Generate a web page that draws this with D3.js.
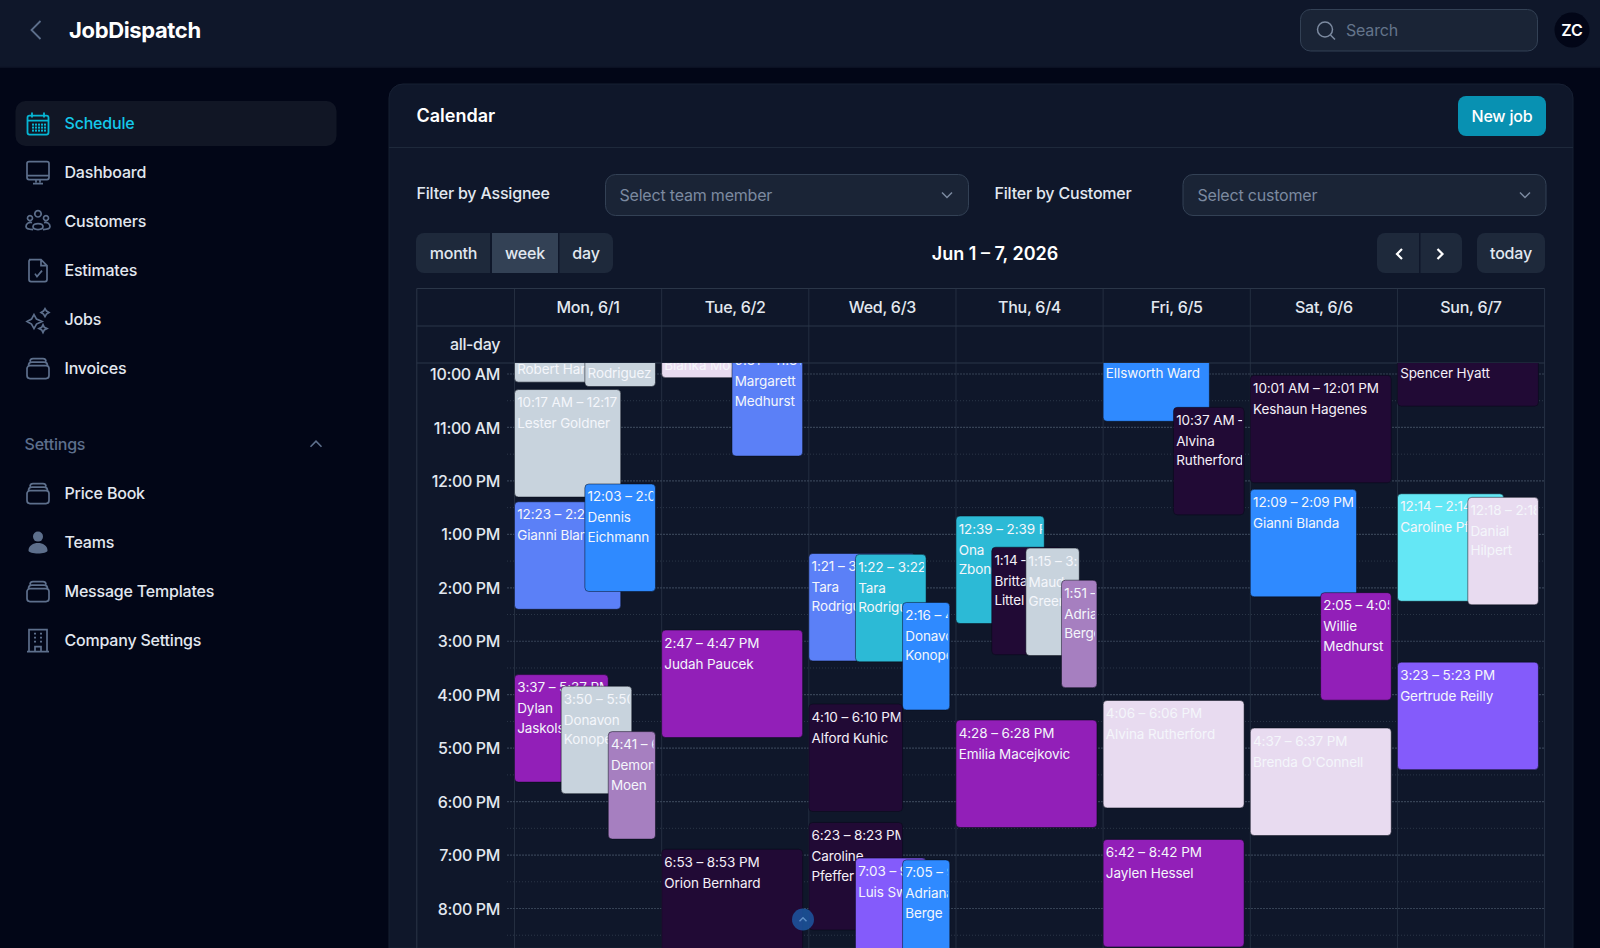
<!DOCTYPE html>
<html>
<head>
<meta charset="utf-8">
<title>JobDispatch</title>
<script src="https://cdn.jsdelivr.net/npm/d3@7"></script>
<style>
  html, body { margin: 0; padding: 0; background: #020617; overflow: hidden; }
  svg { display: block; font-family: Inter, "Noto Sans", sans-serif; letter-spacing: -0.2px; }
  .axis .domain, .axis line { display: none; }
  .axis text { letter-spacing: -0.28px; }
  .job text { letter-spacing: -0.1px; }
  .wide text, text.wide { letter-spacing: 0; }
</style>
</head>
<body>
<svg id="page" width="1600" height="948"></svg>
<script>
// calendar data
const dayLabels = ['Mon, 6/1', 'Tue, 6/2', 'Wed, 6/3', 'Thu, 6/4', 'Fri, 6/5', 'Sat, 6/6', 'Sun, 6/7'];
const hourTicks = [10, 11, 12, 13, 14, 15, 16, 17, 18, 19, 20];
const hourLabels = ['10:00 AM', '11:00 AM', '12:00 PM', '1:00 PM', '2:00 PM', '3:00 PM', '4:00 PM', '5:00 PM', '6:00 PM', '7:00 PM', '8:00 PM'];
const jobMinutes = 120;

// rows: start, time text, name lines, colour key, lane key
const monJobs = [
  ['8:08', '8:08 – 10:08 AM', ['Robert Harber'], 'slate', 'left'],
  ['8:13', '8:13 – 10:13 AM', ['Tara', 'Rodriguez'], 'slate', 'right'],
  ['10:17', '10:17 AM – 12:17 PM', ['Lester Goldner'], 'slate', 'left'],
  ['12:23', '12:23 – 2:23 PM', ['Gianni Blanda'], 'periwinkle', 'left'],
  ['12:03', '12:03 – 2:03 PM', ['Dennis', 'Eichmann'], 'blue', 'right'],
  ['15:37', '3:37 – 5:37 PM', ['Dylan', 'Jaskolski'], 'purple', 'thirdA'],
  ['15:50', '3:50 – 5:50 PM', ['Donavon', 'Konopelski'], 'slate', 'thirdB'],
  ['16:41', '4:41 – 6:41 PM', ['Demond', 'Moen'], 'mauve', 'thirdC']
];
const tueJobs = [
  ['8:03', '8:03 – 10:03 AM', ['Bianka Moen'], 'lilac', 'left'],
  ['9:31', '9:31 – 11:31 AM', ['Margarett', 'Medhurst'], 'periwinkle', 'right'],
  ['14:47', '2:47 – 4:47 PM', ['Judah Paucek'], 'purple', 'full'],
  ['18:53', '6:53 – 8:53 PM', ['Orion Bernhard'], 'plum', 'full']
];
const wedJobs = [
  ['13:21', '1:21 – 3:21 PM', ['Tara', 'Rodriguez'], 'periwinkle', 'left'],
  ['13:22', '1:22 – 3:22 PM', ['Tara', 'Rodriguez'], 'teal', 'thirdB'],
  ['14:16', '2:16 – 4:16 PM', ['Donavon', 'Konopelski'], 'blue', 'thirdC'],
  ['16:10', '4:10 – 6:10 PM', ['Alford Kuhic'], 'plum', 'thirdA'],
  ['18:23', '6:23 – 8:23 PM', ['Caroline', 'Pfeffer'], 'plum', 'thirdA'],
  ['19:03', '7:03 – 9:03 PM', ['Luis Swift'], 'violet', 'thirdB'],
  ['19:05', '7:05 – 9:05 PM', ['Adriana', 'Berge'], 'blue', 'thirdC']
];
const thuJobs = [
  ['12:39', '12:39 – 2:39 PM', ['Ona', 'Zboncak'], 'teal', 'fourA'],
  ['13:14', '1:14 – 3:14 PM', ['Britta', 'Littel'], 'plum', 'fourB'],
  ['13:15', '1:15 – 3:15 PM', ['Maud', 'Green'], 'slate', 'fourC'],
  ['13:51', '1:51 – 3:51 PM', ['Adria', 'Berge'], 'mauve', 'fourD'],
  ['16:28', '4:28 – 6:28 PM', ['Emilia Macejkovic'], 'purple', 'full']
];
const friJobs = [
  ['8:52', '8:52 – 10:52 AM', ['Ellsworth Ward'], 'blue', 'left'],
  ['10:37', '10:37 AM – 12:37 PM', ['Alvina', 'Rutherford'], 'plum', 'right'],
  ['16:06', '4:06 – 6:06 PM', ['Alvina Rutherford'], 'lilac', 'full'],
  ['18:42', '6:42 – 8:42 PM', ['Jaylen Hessel'], 'purple', 'full']
];
const satJobs = [
  ['10:01', '10:01 AM – 12:01 PM', ['Keshaun Hagenes'], 'plum', 'full'],
  ['12:09', '12:09 – 2:09 PM', ['Gianni Blanda'], 'blue', 'left'],
  ['14:05', '2:05 – 4:05 PM', ['Willie', 'Medhurst'], 'purple', 'right'],
  ['16:37', '4:37 – 6:37 PM', ["Brenda O'Connell"], 'lilac', 'full']
];
const sunJobs = [
  ['8:35', '8:35 – 10:35 AM', ['Spencer Hyatt'], 'plum', 'full'],
  ['12:14', '12:14 – 2:14 PM', ['Caroline Pfeffer'], 'cyan', 'left'],
  ['12:18', '12:18 – 2:18 PM', ['Danial', 'Hilpert'], 'lilac', 'right'],
  ['15:23', '3:23 – 5:23 PM', ['Gertrude Reilly'], 'violet', 'full']
];
const weekJobs = [monJobs, tueJobs, wedJobs, thuJobs, friJobs, satJobs, sunJobs];

const mainNav = ['Schedule', 'Dashboard', 'Customers', 'Estimates', 'Jobs', 'Invoices'];
const settingsNav = ['Price Book', 'Teams', 'Message Templates', 'Company Settings'];

// look
const jobColours = {
  slate: '#c8d3dd', periwinkle: '#5b80f7', blue: '#2f8aff', purple: '#921fb8', plum: '#210a35',
  lilac: '#e8dbf0', mauve: '#a67fc0', teal: '#2cbad6', cyan: '#64e7f5', violet: '#845bfb'
};
// where a job sits inside its day, as a share of the day's width
const lanes = {
  full: [0, 0.958], left: [0, 0.722], right: [0.478, 0.958],
  thirdA: [0, 0.637], thirdB: [0.317, 0.797], thirdC: [0.637, 0.958],
  fourA: [0, 0.6], fourB: [0.243, 0.72], fourC: [0.475, 0.838], fourD: [0.717, 0.958]
};
// jobs scrolled past the top keep their text stuck near the edge
const stuckTextTop = { '8:08': 335.3, '8:13': 320.4, '8:03': 331.5, '9:31': 347.8, '8:52': 339, '8:35': 339 };

const colors = {
  page: '#020617', panel: '#0f172a', border: '#1e293b', grid: '#2b3648',
  field: '#1a2436', fieldBorder: '#334155', muted: '#64748b', placeholder: '#7c8aa0',
  text: '#e2e8f0', white: '#ffffff', icon: '#5d6f8c', cyan: '#06b6d4', button: '#1e293b', buttonOn: '#334155'
};

const svg = d3.select('#page');

function minutesOf(hm) {
  const [h, m] = hm.split(':').map(Number);
  return h * 60 + m;
}

function label(parent, x, y, text, size, fill, weight, anchor) {
  return parent.append('text')
    .attr('x', x).attr('y', y).attr('dy', '.35em')
    .attr('font-size', size).attr('fill', fill)
    .attr('font-weight', weight || 400)
    .attr('text-anchor', anchor || 'start')
    .text(text);
}

function box(parent, x, y, w, h, r, fill, stroke) {
  return parent.append('rect')
    .attr('x', x).attr('y', y).attr('width', w).attr('height', h).attr('rx', r)
    .attr('fill', fill).attr('stroke', stroke || 'none');
}

function chevron(parent, cx, cy, dir, size, stroke, width) {
  const s = size;
  const pts = {
    up: [[-s, s / 2], [0, -s / 2], [s, s / 2]],
    down: [[-s, -s / 2], [0, s / 2], [s, -s / 2]],
    left: [[s / 2, -s], [-s / 2, 0], [s / 2, s]],
    right: [[-s / 2, -s], [s / 2, 0], [-s / 2, s]]
  }[dir];
  parent.append('path')
    .attr('d', d3.line()(pts.map(p => [cx + p[0], cy + p[1]])))
    .attr('fill', 'none').attr('stroke', stroke).attr('stroke-width', width);
}

// sidebar icons, drawn in a 24 box around the middle
const iconPaths = {
  Dashboard: 'M-9 -11H9a2 2 0 0 1 2 2V5a2 2 0 0 1-2 2H-9a2 2 0 0 1-2-2V-9a2 2 0 0 1 2-2ZM-11 3H11M-2 7V10M2 7V10M-5 11H5',
  Customers: 'M0 -11a3.2 3.2 0 1 1 -.01 0ZM-8 -6a2.5 2.5 0 1 1 -.01 0ZM8 -6a2.5 2.5 0 1 1 -.01 0ZM-5 5c0-4 10-4 10 0c0 4-10 4-10 0ZM-6 1c-3-1-6 1-6 4c0 2 3 3 7 3M6 1c3-1 6 1 6 4c0 2-3 3-7 3',
  Estimates: 'M-9 -11H3L9 -5V9a2 2 0 0 1-2 2H-7a2 2 0 0 1-2-2V-9a2 2 0 0 1 2-2ZM3 -11V-5H9M-3 3L-1 6L4 0',
  Jobs: 'M-4 -5L-1.5 -0.5L4 2L-1.5 4.5L-4 9L-6.5 4.5L-11 2L-6.5 -0.5ZM7 -11L8.5 -8.5L11 -7L8.5 -5.5L7 -3L5.5 -5.5L3 -7L5.5 -8.5ZM5 5L6.3 7.7L9 9L6.3 10.3L5 13L3.7 10.3L1 9L3.7 7.7Z',
  Invoices: 'M-8 -3H8a3 3 0 0 1 3 3V7a3 3 0 0 1-3 3H-8a3 3 0 0 1-3-3V0a3 3 0 0 1 3-3ZM-9.5 -3C-9.5 -5.5 -8.5 -6.5 -6 -6.5H6C8.5 -6.5 9.5 -5.5 9.5 -3M-8 -7C-8 -9 -7 -10 -5 -10H5C7 -10 8 -9 8 -7',
  Company: 'M-9 -11H9V11H-9ZM-11 11H11M-4 -7H-2M2 -7H4M-4 -3H-2M2 -3H4M-4 1H-2M2 1H4M-3 11V6H3V11'
};

function navIcon(name, cx, cy) {
  const g = svg.append('g').attr('transform', `translate(${cx},${cy})`);
  if (name === 'Schedule') {
    g.append('rect').attr('x', -10.5).attr('y', -8).attr('width', 21).attr('height', 19).attr('rx', 2)
      .attr('fill', 'none').attr('stroke', colors.cyan).attr('stroke-width', 1.8);
    g.append('path').attr('d', 'M-10 -3H10M-6 -11V-6M6 -11V-6').attr('stroke', colors.cyan).attr('stroke-width', 1.8);
    d3.cross([-5, -2, 1, 4, 7], [1, 4, 7]).forEach(p => {
      g.append('rect').attr('x', p[0] - 1).attr('y', p[1] - 1).attr('width', 2).attr('height', 2).attr('fill', colors.cyan);
    });
  } else if (name === 'Teams') {
    g.append('circle').attr('cy', -6).attr('r', 5).attr('fill', colors.icon);
    g.append('path').attr('d', 'M-9.5 8C-9.5 -2 9.5 -2 9.5 8C9.5 12 -9.5 12 -9.5 8Z').attr('fill', colors.icon);
  } else {
    const key = name === 'Company Settings' ? 'Company'
      : (name === 'Price Book' || name === 'Message Templates') ? 'Invoices' : name;
    g.append('path').attr('d', iconPaths[key])
      .attr('fill', 'none').attr('stroke', colors.icon).attr('stroke-width', 1.7);
  }
}

function drawShell() {
  box(svg, 0, 0, 1600, 948, 0, colors.page);
  box(svg, 0, 0, 1600, 66.5, 0, colors.panel);
  svg.append('line').attr('x1', 0).attr('x2', 1600).attr('y1', 67).attr('y2', 67).attr('stroke', '#141d30');
  chevron(svg, 36, 30, 'left', 9, colors.icon, 1.8);
  label(svg, 69, 30, 'JobDispatch', 22, colors.white, 700).style('letter-spacing', '-0.36px');

  box(svg, 1300.5, 9.5, 237, 41.5, 10, colors.field, colors.fieldBorder);
  svg.append('circle').attr('cx', 1325).attr('cy', 29.5).attr('r', 7.5)
    .attr('fill', 'none').attr('stroke', colors.placeholder).attr('stroke-width', 1.5);
  svg.append('path').attr('d', 'M1330.5 35L1335 39.5').attr('stroke', colors.placeholder).attr('stroke-width', 1.5);
  label(svg, 1346, 30, 'Search', 16, colors.muted);
  svg.append('circle').attr('cx', 1572).attr('cy', 30).attr('r', 17.5).attr('fill', colors.page);
  label(svg, 1572, 30, 'ZC', 16, colors.white, 600, 'middle');
}

function drawSidebar() {
  box(svg, 15.5, 101, 321, 45, 10, '#111625');
  const rowY = i => 123.6 + 49 * i;
  mainNav.forEach((name, i) => {
    navIcon(name, 38, rowY(i));
    label(svg, 64.5, rowY(i), name, 16, i === 0 ? '#14c8ea' : colors.text, 500);
  });
  label(svg, 24.5, 444.8, 'Settings', 16, colors.icon, 500);
  chevron(svg, 316, 444, 'up', 5.5, colors.icon, 1.6);
  settingsNav.forEach((name, i) => {
    const y = 493.6 + 49 * i;
    navIcon(name, 38, y);
    label(svg, 64.5, y, name, 16, colors.text, 500);
  });
}

function drawCard() {
  svg.append('path')
    .attr('d', 'M389 948V98a14 14 0 0 1 14-14H1559a14 14 0 0 1 14 14V948Z')
    .attr('fill', colors.panel).attr('stroke', '#172033');
  svg.append('line').attr('x1', 389).attr('x2', 1573).attr('y1', 147.5).attr('y2', 147.5).attr('stroke', colors.border);
  label(svg, 416.5, 115.5, 'Calendar', 18, colors.white, 600).attr('class', 'wide');
  box(svg, 1458, 96, 88, 40, 8, '#0891b2');
  label(svg, 1502, 116, 'New job', 16, colors.white, 500, 'middle');

  label(svg, 416.5, 193, 'Filter by Assignee', 16, colors.text, 500);
  box(svg, 605.5, 174.5, 363, 41, 10, colors.field, colors.fieldBorder);
  label(svg, 619.5, 195, 'Select team member', 16, colors.placeholder);
  chevron(svg, 947, 195, 'down', 5, colors.placeholder, 1.5);

  label(svg, 994.5, 193, 'Filter by Customer', 16, colors.text, 500);
  box(svg, 1183, 174.5, 363, 41, 10, colors.field, colors.fieldBorder);
  label(svg, 1197.5, 195, 'Select customer', 16, colors.placeholder);
  chevron(svg, 1525, 195, 'down', 5, colors.placeholder, 1.5);

  // view switch
  svg.append('path').attr('d', 'M490 233H424a8 8 0 0 0-8 8V265a8 8 0 0 0 8 8H490Z').attr('fill', colors.button);
  svg.append('rect').attr('x', 492).attr('y', 233).attr('width', 66).attr('height', 40).attr('fill', colors.buttonOn);
  svg.append('path').attr('d', 'M559.5 233H605a8 8 0 0 1 8 8V265a8 8 0 0 1-8 8H559.5Z').attr('fill', colors.button);
  label(svg, 453.5, 253, 'month', 16, colors.text, 500, 'middle');
  label(svg, 525, 253, 'week', 16, colors.text, 500, 'middle');
  label(svg, 586, 253, 'day', 16, colors.text, 500, 'middle');

  label(svg, 995, 253.2, 'Jun 1 – 7, 2026', 18, colors.white, 600, 'middle').attr('class', 'wide');

  svg.append('path').attr('d', 'M1419 233H1385a8 8 0 0 0-8 8V265a8 8 0 0 0 8 8H1419Z').attr('fill', colors.button);
  svg.append('path').attr('d', 'M1420.5 233H1454a8 8 0 0 1 8 8V265a8 8 0 0 1-8 8H1420.5Z').attr('fill', colors.button);
  chevron(svg, 1399.5, 254, 'left', 5, colors.white, 2.2);
  chevron(svg, 1440, 254, 'right', 5, colors.white, 2.2);
  box(svg, 1477, 233, 68, 40, 8, colors.button);
  label(svg, 1511, 253, 'today', 16, colors.text, 500, 'middle');
}

function drawCalendar() {
  const top = 288.5, headBottom = 326, allDayBottom = 363, left = 416.8, right = 1544.6;
  const x = d3.scaleLinear().domain([0, 7]).range([514.5, right]);
  const y = d3.scaleLinear().domain([600, 1200]).range([374, 908.5]);

  const grid = svg.append('g');
  [top, headBottom, allDayBottom].forEach(v => {
    grid.append('line').attr('x1', left).attr('x2', right).attr('y1', v).attr('y2', v).attr('stroke', colors.grid);
  });
  d3.range(0, 8).forEach(d => {
    grid.append('line').attr('x1', x(d)).attr('x2', x(d)).attr('y1', top).attr('y2', 948)
      .attr('stroke', colors.grid).attr('opacity', d === 7 ? 0.9 : 0.75);
  });
  grid.append('line').attr('x1', left).attr('x2', left).attr('y1', top).attr('y2', 948).attr('stroke', colors.grid);

  hourTicks.forEach(h => {
    grid.append('line').attr('x1', 507).attr('x2', right).attr('y1', y(h * 60)).attr('y2', y(h * 60))
      .attr('stroke', '#364255').attr('stroke-width', 1.2).attr('stroke-dasharray', '2 1');
    grid.append('line').attr('x1', 507).attr('x2', right).attr('y1', y(h * 60 + 30)).attr('y2', y(h * 60 + 30))
      .attr('stroke', '#2b3648').attr('stroke-dasharray', '1 2');
  });

  // day header and hour axes
  const dayAxis = d3.axisTop(x)
    .tickValues(d3.range(7).map(d => d + 0.5))
    .tickFormat((d, i) => dayLabels[i]).tickSize(0).tickPadding(0);
  svg.append('g').attr('class', 'axis').attr('transform', 'translate(-0.5,313)').call(dayAxis)
    .call(g => g.selectAll('text').attr('font-size', 16).attr('font-family', 'Inter').attr('font-weight', 500)
      .attr('fill', colors.text));

  label(svg, 500, 344.5, 'all-day', 16, colors.text, 500, 'end').style('letter-spacing', '-0.35px');

  const hourAxis = d3.axisLeft(y)
    .tickValues(hourTicks.map(h => h * 60))
    .tickFormat((d, i) => hourLabels[i]).tickSize(0).tickPadding(0);
  svg.append('g').attr('class', 'axis').attr('transform', 'translate(500,0.5)').call(hourAxis)
    .call(g => g.selectAll('text').attr('font-size', 16).attr('font-family', 'Inter').attr('font-weight', 500)
      .attr('fill', colors.text).style('letter-spacing', '-0.35px'));

  // jobs, cut off where the time grid scrolls
  const defs = svg.append('defs');
  defs.append('clipPath').attr('id', 'slots')
    .append('rect').attr('x', 500).attr('y', allDayBottom).attr('width', 1100).attr('height', 948 - allDayBottom);
  const layer = svg.append('g').attr('clip-path', 'url(#slots)');

  weekJobs.forEach((jobs, day) => {
    jobs.forEach((job, j) => {
      const [start, time, names, colour, laneKey] = job;
      const lane = lanes[laneKey];
      const x0 = x(day + lane[0]), x1 = x(day + lane[1]);
      const y0 = y(minutesOf(start)) + 0.4, y1 = y(minutesOf(start) + jobMinutes) + 1;
      const id = `job-${day}-${j}`;

      defs.append('clipPath').attr('id', id)
        .append('rect').attr('x', x0).attr('y', y0).attr('width', x1 - x0 - 2).attr('height', y1 - y0);

      const g = layer.append('g').attr('class', 'job');
      box(g, x0, y0, x1 - x0, y1 - y0, 4, jobColours[colour], '#070b16').attr('stroke-width', 0.5);

      const textTop = stuckTextTop[start] || y0;
      const inner = g.append('g').attr('clip-path', `url(#${id})`);
      label(inner, x0 + 2.7, textTop + 12.8, time, 13.5, colour === 'plum' ? '#f5f0f8' : '#f4f6fb');
      names.forEach((line, k) => {
        label(inner, x0 + 2.7, textTop + 33.8 + 19.5 * k, line, 13.5, colour === 'plum' ? '#f5f0f8' : '#f4f6fb');
      });
    });
  });

  // back to top button
  svg.append('circle').attr('cx', 803).attr('cy', 919.5).attr('r', 11).attr('fill', '#1d5aa8').attr('opacity', 0.8);
  chevron(svg, 803, 919.5, 'up', 3.5, '#5f8fc7', 1.4);
}

drawShell();
drawSidebar();
drawCard();
drawCalendar();
</script>
</body>
</html>
